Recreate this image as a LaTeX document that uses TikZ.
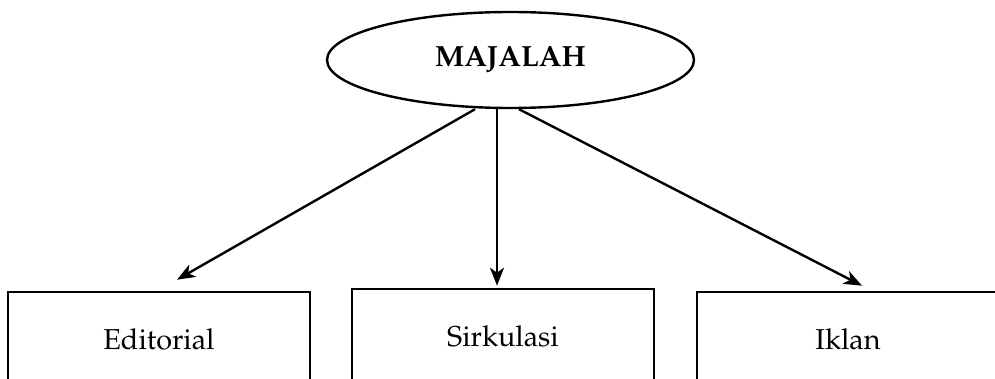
\documentclass[tikz,border=0pt]{standalone}
\usepackage[T1]{fontenc}
\usepackage{mathpazo}
\usepackage{tikz}
\usetikzlibrary{positioning}
\usetikzlibrary{shapes.geometric}
\usetikzlibrary{arrows.meta}
\tikzset{
	unitbox/.style={draw, rectangle, line width=1.3pt, inner sep=0pt,
		minimum width=151pt, minimum height=47pt,
		font=\fontsize{14.4}{17}\selectfont},
	topnode/.style={draw, ellipse, line width=1.2pt, inner sep=0pt,
		minimum width=183.5pt, minimum height=48pt,
		font=\fontsize{14.6}{17}\selectfont\bfseries},
	link/.style={line width=1.2pt, -{Stealth[length=9pt,width=7pt,inset=2.5pt]}}
}

\begin{document}
\begin{tikzpicture}[x=0.5pt, y=-0.5pt]

					\useasboundingbox (0,0) rectangle (995,379);

					\node[topnode] (majalah) at (510.5,60) {MAJALAH};

					\node[unitbox] (editorial) at (159,339) {Editorial};
					\node[unitbox] (sirkulasi) at (503,336) {Sirkulasi};
					\node[unitbox] (iklan) at (848,339) {Iklan};

					\draw[link] ([shift={(-35.5,0)}]majalah.south) -- ([shift={(18,-11)}]editorial.north);
					\draw[link] ([shift={(-13.5,0)}]majalah.south) -- ([shift={(-6,-2)}]sirkulasi.north);
					\draw[link] ([shift={(8.5,0)}]majalah.south) -- ([shift={(14,-5)}]iklan.north);

				\end{tikzpicture}
\end{document}
